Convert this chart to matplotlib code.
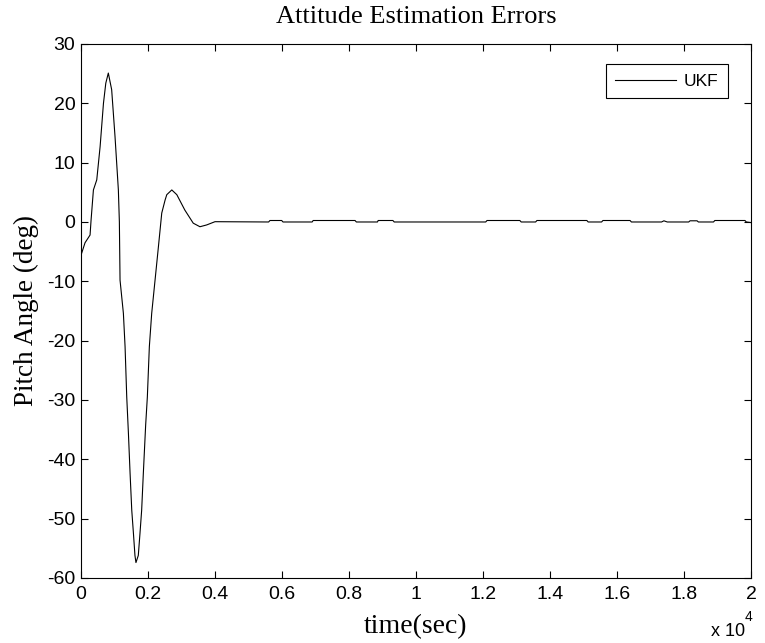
import matplotlib
matplotlib.use("Agg")
import matplotlib.pyplot as plt
import numpy as np

# Data (time in seconds, pitch error in degrees)
time_s = [0, 120, 270, 300, 370, 470, 570, 670, 740, 815, 915, 1015, 1115, 1145,
          1165, 1265, 1315, 1365, 1415, 1465, 1515, 1565, 1610, 1640, 1710, 1760,
          1810, 1860, 1930, 1980, 2040, 2110, 2210, 2310, 2410, 2510, 2560, 2710,
          2860, 3100, 3350, 3550, 3750, 4000,
          5600, 5640, 5990, 6030, 6900, 6930, 8180, 8220, 8850, 8870, 9310, 9350,
          12080, 12120, 13100, 13140, 13570, 13610, 15100, 15140, 15540, 15580,
          16390, 16430, 17330, 17400, 17500, 18140, 18180, 18390, 18430,
          18880, 18920, 19820, 19860, 20000]
pitch_deg = [-5.6, -3.5, -2.2, 0.3, 5.4, 7.1, 12.7, 20.0, 23.4, 25.1, 22.3, 14.4, 5.4, 0.0,
             -9.8, -15.4, -21.0, -29.5, -35.6, -42.4, -48.6, -52.5, -56.2, -57.4, -56.2, -52.5,
             -48.6, -42.4, -34.2, -29.5, -21.0, -15.4, -9.8, -4.2, 1.5, 3.7, 4.6, 5.4,
             4.6, 2.0, -0.2, -0.8, -0.5, 0.05,
             0.0, 0.25, 0.25, 0.0, 0.0, 0.25, 0.25, 0.0, 0.0, 0.25, 0.25, 0.0,
             0.0, 0.25, 0.25, 0.0, 0.0, 0.25, 0.25, 0.0, 0.0, 0.25,
             0.25, 0.0, 0.0, 0.2, 0.0, 0.0, 0.2, 0.2, 0.0,
             0.0, 0.25, 0.25, 0.0, -0.1]

x_ticks = [0, 2000, 4000, 6000, 8000, 10000, 12000, 14000, 16000, 18000, 20000]
x_tick_labels = ["0", "0.2", "0.4", "0.6", "0.8", "1", "1.2", "1.4", "1.6", "1.8", "2"]
y_ticks = [-60, -50, -40, -30, -20, -10, 0, 10, 20, 30]
series_label = "UKF"

fig = plt.figure(figsize=(7.65, 6.43), dpi=100)
ax = fig.add_axes([0.1059, 0.1011, 0.8758, 0.8305])

ax.plot(time_s, pitch_deg, color="black", linewidth=0.8, label=series_label)

ax.set_xlim(0, 20000)
ax.set_ylim(-60, 30)
ax.set_xticks(x_ticks)
ax.set_xticklabels(x_tick_labels)
ax.set_yticks(y_ticks)
ax.set_yticklabels([str(v) for v in y_ticks])

for lab in ax.get_xticklabels() + ax.get_yticklabels():
    lab.set_fontfamily("Liberation Sans")
    lab.set_fontsize(14)

ax.tick_params(direction="in", top=True, right=True, length=5, width=0.8)
ax.tick_params(axis="y", pad=4)
ax.tick_params(axis="x", pad=6)
for sp in ax.spines.values():
    sp.set_linewidth(0.8)

ax.set_title("Attitude Estimation Errors", family="Liberation Serif", fontsize=19, pad=15)
ax.set_xlabel("time(sec)", family="Liberation Serif", fontsize=20, labelpad=8)
ax.set_ylabel("Pitch Angle (deg)", family="Liberation Serif", fontsize=19.5, labelpad=6)

leg = ax.legend(loc="upper right", prop={"family": "Liberation Sans", "size": 12.5},
                fancybox=False, edgecolor="black", framealpha=1,
                handlelength=3.5, handletextpad=0.45, borderpad=0.55, borderaxespad=0,
                bbox_to_anchor=(0.9657, 0.9625))
leg.get_frame().set_linewidth(0.8)

fig.text(0.930, 0.004, "x 10", family="Liberation Sans", fontsize=13, ha="left", va="bottom")
fig.text(0.974, 0.029, "4", family="Liberation Sans", fontsize=10, ha="left", va="bottom")

fig.savefig("out.png", dpi=100)
